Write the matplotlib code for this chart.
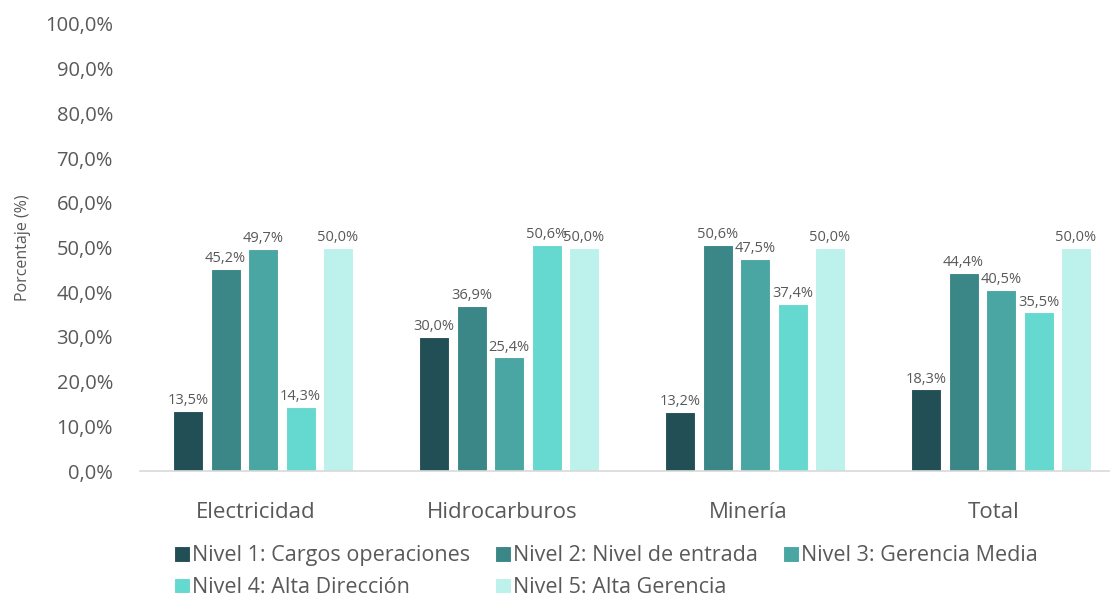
import matplotlib
matplotlib.use("Agg")
import matplotlib.pyplot as plt
import numpy as np

plt.rcParams['font.family'] = ['Open Sans', 'DejaVu Sans']

categories = ["Electricidad", "Hidrocarburos", "Minería", "Total"]
series_names = ["Nivel 1: Cargos operaciones", "Nivel 2: Nivel de entrada",
                "Nivel 3: Gerencia Media", "Nivel 4: Alta Dirección",
                "Nivel 5: Alta Gerencia"]
nivel1 = [13.5, 30.0, 13.2, 18.3]
nivel2 = [45.2, 36.9, 50.6, 44.4]
nivel3 = [49.7, 25.4, 47.5, 40.5]
nivel4 = [14.3, 50.6, 37.4, 35.5]
nivel5 = [50.0, 50.0, 50.0, 50.0]
series = [nivel1, nivel2, nivel3, nivel4, nivel5]
colors = ["#224F55", "#3B8787", "#4AA6A2", "#65D8D0", "#BDF2EC"]
yticks = [0, 10, 20, 30, 40, 50, 60, 70, 80, 90, 100]
ytick_labels = ["0,0%", "10,0%", "20,0%", "30,0%", "40,0%", "50,0%",
                "60,0%", "70,0%", "80,0%", "90,0%", "100,0%"]

text_color = "#595959"

fig = plt.figure(figsize=(11.10, 5.96), dpi=100)
ax = fig.add_axes([140/1110, 1 - 471/596, 970/1110, (471 - 24)/596])

x = np.arange(len(categories))
step = 37.5 / 246
width = 30 / 246
handles = []
for i, (vals, c) in enumerate(zip(series, colors)):
    pos = x + (i - 2) * step
    b = ax.bar(pos, vals, width=width, color=c, edgecolor="white", linewidth=0.8,
               label=series_names[i])
    handles.append(b)
    for px, v in zip(pos, vals):
        ax.text(px, v + 0.6, f"{v:.1f}%".replace(".", ","), ha="center", va="bottom",
                fontsize=10.5, color=text_color)

ax.set_xlim(-0.5, 3.5 - 14/246)
ax.set_ylim(0, 100)
ax.set_yticks(yticks)
ax.set_yticklabels(ytick_labels, fontsize=14.5, color=text_color)
ax.set_xticks(x - 7/246)
ax.set_xticklabels(categories, fontsize=16, color=text_color)
ax.tick_params(axis="both", length=0)
ax.tick_params(axis="x", pad=22)
ax.tick_params(axis="y", pad=19.5)
for s in ["top", "right", "left"]:
    ax.spines[s].set_visible(False)
ax.spines["bottom"].set_color("#D9D9D9")
ax.spines["bottom"].set_linewidth(1.2)
ax.set_ylabel("Porcentaje (%)", fontsize=11.5, color=text_color, labelpad=10)

order = [0, 3, 1, 4, 2]
leg = fig.legend([handles[i] for i in order], [series_names[i] for i in order],
                 ncol=3, loc="lower left", bbox_to_anchor=(165/1110, -0.018),
                 frameon=False, fontsize=15.5, handlelength=0.75, handleheight=0.75,
                 handletextpad=0.1, columnspacing=1.15, labelspacing=0.5,
                 borderaxespad=0)
for t in leg.get_texts():
    t.set_color(text_color)

fig.savefig("out.png", dpi=100)
